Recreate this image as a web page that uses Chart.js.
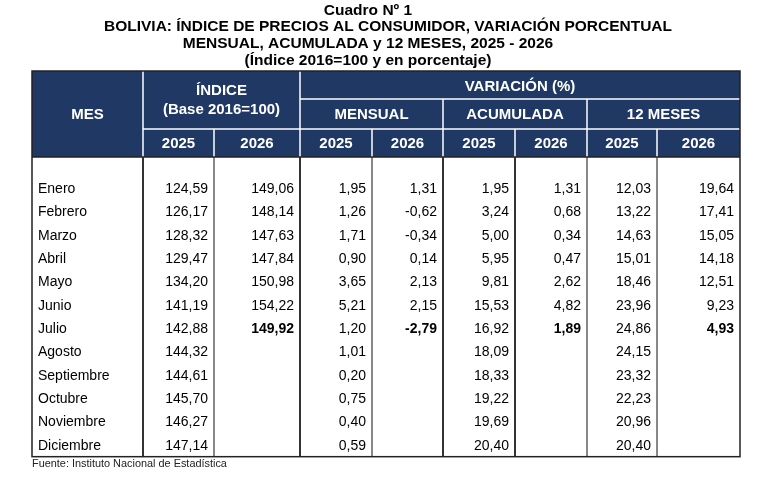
<!DOCTYPE html>
<html>
<head>
<meta charset="utf-8">
<style>
  html, body { margin: 0; padding: 0; background: #fff; }
  #wrap { width: 777px; height: 477px; }
</style>
<script src="https://cdn.jsdelivr.net/npm/chart.js@4.4.0/dist/chart.umd.min.js"></script>
</head>
<body>
<div id="wrap"><canvas id="cuadro"></canvas></div>
<script>
// datos del cuadro (INE)
const meses = ["Enero", "Febrero", "Marzo", "Abril", "Mayo", "Junio", "Julio",
  "Agosto", "Septiembre", "Octubre", "Noviembre", "Diciembre"];
const indice2025 = [124.59, 126.17, 128.32, 129.47, 134.20, 141.19, 142.88, 144.32, 144.61, 145.70, 146.27, 147.14];
const indice2026 = [149.06, 148.14, 147.63, 147.84, 150.98, 154.22, 149.92];
const mensual2025 = [1.95, 1.26, 1.71, 0.90, 3.65, 5.21, 1.20, 1.01, 0.20, 0.75, 0.40, 0.59];
const mensual2026 = [1.31, -0.62, -0.34, 0.14, 2.13, 2.15, -2.79];
const acumulada2025 = [1.95, 3.24, 5.00, 5.95, 9.81, 15.53, 16.92, 18.09, 18.33, 19.22, 19.69, 20.40];
const acumulada2026 = [1.31, 0.68, 0.34, 0.47, 2.62, 4.82, 1.89];
const doce2025 = [12.03, 13.22, 14.63, 15.01, 18.46, 23.96, 24.86, 24.15, 23.32, 22.23, 20.96, 20.40];
const doce2026 = [19.64, 17.41, 15.05, 14.18, 12.51, 9.23, 4.93];
const anios = ["2025", "2026"];

const titulo = [
  "Cuadro Nº 1",
  "BOLIVIA: ÍNDICE DE PRECIOS AL CONSUMIDOR, VARIACIÓN PORCENTUAL",
  "MENSUAL, ACUMULADA y 12 MESES, 2025 - 2026",
  "(Índice 2016=100 y en porcentaje)"
];
const fuente = "Fuente: Instituto Nacional de Estadística";

// bordes de columna en unidades de la escala x (ancho de la tabla)
const bordes = [0, 111, 182, 268, 340, 411, 483, 555, 625, 708];
const AZUL = "#1f3864";
const FONT = "'Liberation Sans', Arial, sans-serif";

const columnas = [indice2025, indice2026, mensual2025, mensual2026,
  acumulada2025, acumulada2026, doce2025, doce2026];

const fmt = v => v.toFixed(2).replace(".", ",");

const datasets = columnas.map((serie, k) => ({
  label: "col" + k,
  ultimoNegrita: k % 2 === 1,
  pointRadius: 0,
  data: serie.map((v, i) => ({ x: bordes[k + 2], y: meses[i], v: v }))
}));

const tablaPlugin = {
  id: "tabla",
  beforeDraw(chart) {
    const ctx = chart.ctx;
    const xs = chart.scales.x, ys = chart.scales.y;
    const X = b => xs.getPixelForValue(bordes[b]);
    const paso = (ys.getPixelForValue(meses.length - 1) - ys.getPixelForValue(0)) / (meses.length - 1);
    const top = 71, hdrBot = 157;
    const bot = ys.getPixelForValue(meses.length - 1) + paso / 2;
    ctx.save();

    // título
    ctx.fillStyle = "#000";
    ctx.textAlign = "center";
    ctx.textBaseline = "middle";
    ctx.font = "bold 15.5px " + FONT;
    const cx = [368, 388, 368, 368], cy = [11, 27, 44, 61];
    titulo.forEach((t, i) => ctx.fillText(t, cx[i], cy[i]));

    // cabecera
    ctx.fillStyle = AZUL;
    ctx.fillRect(X(0), top, X(9) - X(0), hdrBot - top);
    ctx.strokeStyle = "#fff";
    ctx.lineWidth = 1.5;
    const linea = (x1, y1, x2, y2) => { ctx.beginPath(); ctx.moveTo(x1, y1); ctx.lineTo(x2, y2); ctx.stroke(); };
    linea(X(3), 99, X(9), 99);
    linea(X(1), 129, X(9), 129);
    linea(X(1), top, X(1), hdrBot);
    linea(X(3), top, X(3), hdrBot);
    [5, 7].forEach(b => linea(X(b), 99, X(b), hdrBot));
    [2, 4, 6, 8].forEach(b => linea(X(b), 129, X(b), hdrBot));

    ctx.fillStyle = "#fff";
    ctx.font = "bold 15px " + FONT;
    const centro = (a, b) => (X(a) + X(b)) / 2;
    ctx.fillText("MES", centro(0, 1), 115);
    ctx.fillText("ÍNDICE", centro(1, 3), 91);
    ctx.fillText("(Base 2016=100)", centro(1, 3), 110);
    ctx.fillText("VARIACIÓN (%)", centro(3, 9), 87);
    ctx.fillText("MENSUAL", centro(3, 5), 115);
    ctx.fillText("ACUMULADA", centro(5, 7), 115);
    ctx.fillText("12 MESES", centro(7, 9), 115);
    for (let b = 1; b < 9; b++) ctx.fillText(anios[(b - 1) % 2], centro(b, b + 1), 144);

    // cuerpo
    ctx.strokeStyle = "#111";
    ctx.lineWidth = 1;
    [2, 4, 7, 8].forEach(b => linea(X(b), hdrBot, X(b), bot));
    ctx.strokeStyle = "#333";
    ctx.lineWidth = 2;
    [1, 3, 5, 6].forEach(b => linea(X(b), hdrBot, X(b), bot));
    ctx.strokeStyle = "#222";
    ctx.lineWidth = 1.5;
    ctx.strokeRect(X(0), top, X(9) - X(0), bot - top);
    linea(X(0), hdrBot, X(9), hdrBot);

    // meses
    ctx.fillStyle = "#000";
    ctx.textAlign = "left";
    ctx.font = "14px " + FONT;
    meses.forEach((m, i) => ctx.fillText(m, X(0) + 6, ys.getPixelForValue(i) + 1));

    // fuente
    ctx.font = "10.9px " + FONT;
    ctx.fillStyle = "#222";
    ctx.fillText(fuente, X(0), bot + 7);
    ctx.restore();
  },
  afterDatasetsDraw(chart) {
    const ctx = chart.ctx;
    ctx.save();
    ctx.fillStyle = "#000";
    ctx.textAlign = "right";
    ctx.textBaseline = "middle";
    chart.data.datasets.forEach((ds, k) => {
      const meta = chart.getDatasetMeta(k);
      meta.data.forEach((pt, j) => {
        const negrita = ds.ultimoNegrita && j === ds.data.length - 1;
        ctx.font = (negrita ? "bold " : "") + "14px " + FONT;
        ctx.fillText(fmt(ds.data[j].v), pt.x - 6, pt.y + 1);
      });
    });
    ctx.restore();
  }
};

new Chart(document.getElementById("cuadro"), {
  type: "scatter",
  data: { datasets: datasets },
  options: {
    responsive: true,
    maintainAspectRatio: false,
    animation: false,
    layout: { padding: { left: 32, right: 37, top: 188, bottom: 32 } },
    plugins: { legend: { display: false }, tooltip: { enabled: false } },
    scales: {
      x: { type: "linear", min: 0, max: bordes[bordes.length - 1], display: false },
      y: { type: "category", labels: meses, display: false }
    }
  },
  plugins: [tablaPlugin]
});
</script>
</body>
</html>
